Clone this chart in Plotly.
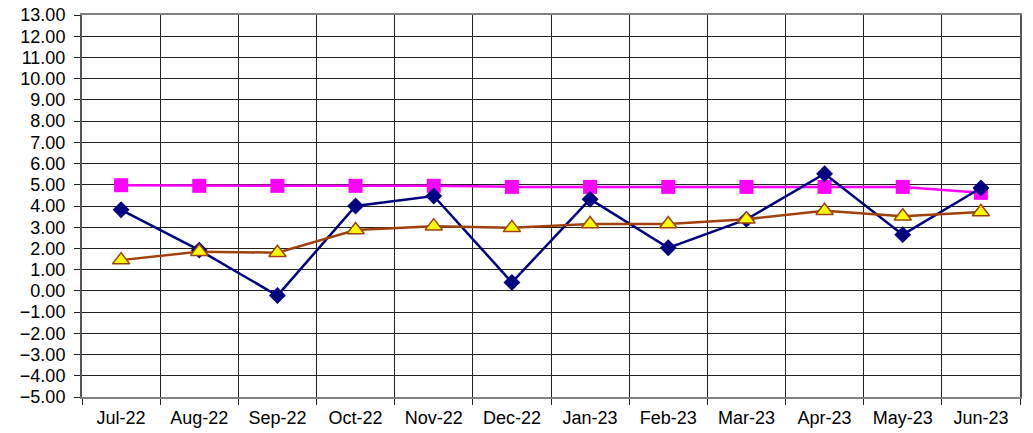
import plotly.graph_objects as go

months = ["Jul-22", "Aug-22", "Sep-22", "Oct-22", "Nov-22", "Dec-22",
          "Jan-23", "Feb-23", "Mar-23", "Apr-23", "May-23", "Jun-23"]
blue_vals = [3.82, 1.92, -0.22, 4.00, 4.47, 0.40, 4.32, 2.03, 3.37, 5.52, 2.65, 4.85]
pink_vals = [4.98, 4.95, 4.95, 4.95, 4.95, 4.90, 4.90, 4.90, 4.90, 4.90, 4.90, 4.62]
brown_vals = [1.45, 1.85, 1.80, 2.87, 3.05, 2.97, 3.15, 3.15, 3.38, 3.78, 3.52, 3.72]
y_ticks = list(range(-5, 14))

fig = go.Figure()
fig.add_trace(go.Scatter(
    x=months, y=pink_vals, mode="lines+markers",
    line=dict(color="#FF00FF", width=2.5),
    marker=dict(symbol="square", size=14, color="#FF00FF"),
    showlegend=False))
fig.add_trace(go.Scatter(
    x=months, y=blue_vals, mode="lines+markers",
    line=dict(color="#000080", width=2.5),
    marker=dict(symbol="diamond", size=13, color="#000080"),
    showlegend=False))
fig.add_trace(go.Scatter(
    x=months, y=brown_vals, mode="lines+markers",
    line=dict(color="#A0400A", width=2.5),
    marker=dict(symbol="triangle-up", size=15, color="#FFFF00",
                line=dict(color="#A0400A", width=1.5)),
    showlegend=False))

fig.update_layout(
    width=1033, height=433,
    margin=dict(l=82, r=13, t=15, b=36, pad=0),
    paper_bgcolor="white", plot_bgcolor="white",
    font=dict(family="Liberation Sans, Arial", size=18, color="black"),
    xaxis=dict(type="category", tickson="boundaries", showgrid=True,
               gridcolor="#222222", gridwidth=1, automargin=False,
               ticks="outside", ticklen=6, tickcolor="#222222",
               ticklabelstandoff=3,
               showline=True, linecolor="#808080", linewidth=2, mirror=True,
               range=[-0.5, 11.5], tickfont=dict(size=18)),
    yaxis=dict(range=[-5, 13], tickvals=y_ticks, tickformat=".2f",
               showgrid=True, gridcolor="#222222", gridwidth=1, automargin=False,
               ticks="outside", ticklen=6, tickcolor="#222222",
               ticklabelstandoff=5, ticklabeloverflow="allow",
               showline=True, linecolor="#555555", linewidth=2, mirror=True,
               zeroline=False, tickfont=dict(size=18)),
)

fig.write_html("out.html",
               config={"displayModeBar": False},
               post_script="document.body.style.margin='0';document.body.style.overflow='hidden';")
